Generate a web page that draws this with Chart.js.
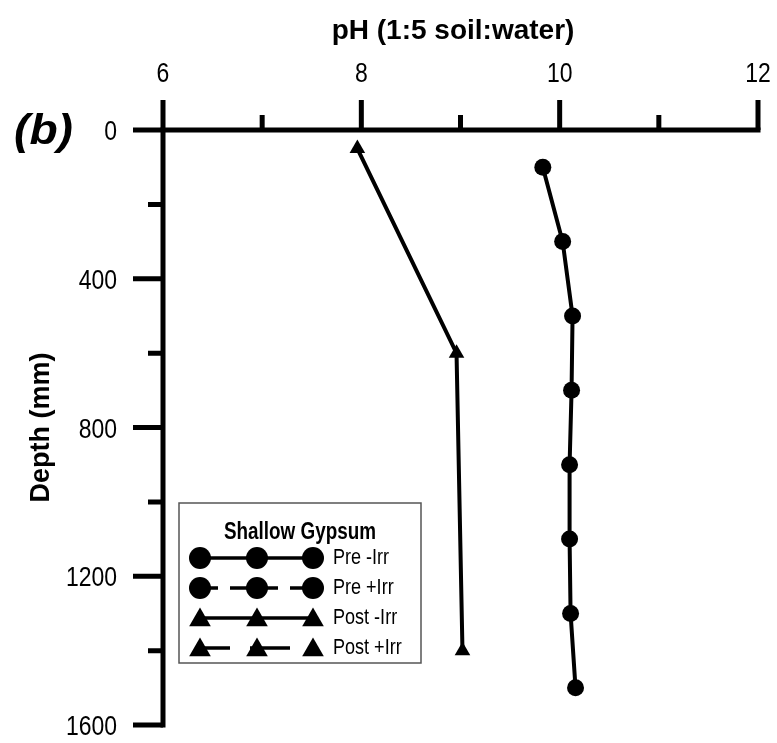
<!DOCTYPE html>
<html>
<head>
<meta charset="utf-8">
<script src="https://cdn.jsdelivr.net/npm/chart.js@4.4.1/dist/chart.umd.min.js"></script>
<style>
  html, body { margin: 0; padding: 0; background: #fff; }
  #wrap { width: 777px; height: 743px; position: relative; }
</style>
</head>
<body>
<div id="wrap"><canvas id="c" width="777" height="743"></canvas></div>
<script>
// ---- data ----
const seriesNames = ['Pre -Irr', 'Pre +Irr', 'Post -Irr', 'Post +Irr'];
const legendTitle = 'Shallow Gypsum';
const panelLabel = '(b)';
const xTitle = 'pH (1:5 soil:water)';
const yTitle = 'Depth (mm)';

const preIrrDepth = [100, 300, 500, 700, 900, 1100, 1300, 1500];
const preIrrPH    = [9.83, 10.03, 10.13, 10.12, 10.10, 10.10, 10.11, 10.16];

const postIrrDepth = [50, 600, 1400];
const postIrrPH    = [7.96, 8.96, 9.02];

const xTickValues = [6, 7, 8, 9, 10, 11, 12];
const xTickLabels = [6, 8, 10, 12];
const yTickValues = [0, 200, 400, 600, 800, 1000, 1200, 1400, 1600];
const yTickLabels = [0, 400, 800, 1200, 1600];

const toXY = (xs, ys) => xs.map((v, i) => ({ x: v, y: ys[i] }));

const SANS = "'Liberation Sans', Arial, sans-serif";
const NARROW_SCALE = 0.82;   // condensed look of the original lettering

function narrowText(ctx, text, x, y, align, font) {
  ctx.save();
  ctx.font = font;
  ctx.textAlign = align;
  ctx.translate(x, y);
  ctx.scale(NARROW_SCALE, 1);
  ctx.fillText(text, 0, 0);
  ctx.restore();
}

// ---- axes: thick lines, long major / short minor ticks, labels, titles ----
const axisPlugin = {
  id: 'axisPlugin',
  afterDatasetsDraw(chart) {
    const { ctx } = chart;
    const xs = chart.scales.x, ys = chart.scales.y;
    const xL = xs.getPixelForValue(xTickValues[0]);
    const xR = xs.getPixelForValue(xTickValues[xTickValues.length - 1]);
    const yT = ys.getPixelForValue(yTickValues[0]);
    const yB = ys.getPixelForValue(yTickValues[yTickValues.length - 1]);
    ctx.save();
    ctx.strokeStyle = '#000';
    ctx.fillStyle = '#000';
    ctx.lineWidth = 5;
    ctx.lineCap = 'butt';
    ctx.beginPath();
    ctx.moveTo(xL - 2.5, yT); ctx.lineTo(xR + 2.5, yT);
    ctx.moveTo(xL, yT - 2.5); ctx.lineTo(xL, yB + 2.5);
    ctx.stroke();
    ctx.beginPath();
    xTickValues.forEach(v => {
      const p = xs.getPixelForValue(v);
      const len = xTickLabels.includes(v) ? 30 : 15;
      ctx.moveTo(p, yT); ctx.lineTo(p, yT - len);
    });
    yTickValues.forEach(v => {
      const p = ys.getPixelForValue(v);
      const len = yTickLabels.includes(v) ? 30 : 15;
      ctx.moveTo(xL, p); ctx.lineTo(xL - len, p);
    });
    ctx.stroke();

    // tick labels
    ctx.textBaseline = 'alphabetic';
    const tickFont = "28px " + SANS;
    xTickLabels.forEach(v => {
      narrowText(ctx, String(v), xs.getPixelForValue(v), yT - 48, 'center', tickFont);
    });
    yTickLabels.forEach(v => {
      narrowText(ctx, String(v), xL - 46, ys.getPixelForValue(v) + 10, 'right', tickFont);
    });

    // axis titles
    ctx.font = "bold 28px " + SANS;
    ctx.textAlign = 'center';
    ctx.fillText(xTitle, 453, 39);
    ctx.save();
    ctx.translate(42, (yT + yB) / 2);
    ctx.rotate(-Math.PI / 2);
    ctx.font = "bold 27px " + SANS;
    ctx.textBaseline = 'middle';
    ctx.fillText(yTitle, 0, 0);
    ctx.restore();
    ctx.restore();
  }
};

// ---- legend box + panel label ----
function drawMarker(ctx, shape, x, y, r) {
  ctx.beginPath();
  if (shape === 'circle') {
    ctx.arc(x, y, r, 0, Math.PI * 2);
  } else {
    const hw = r * Math.sin(Math.PI / 3);
    ctx.moveTo(x, y - r);
    ctx.lineTo(x + hw, y + r / 2);
    ctx.lineTo(x - hw, y + r / 2);
    ctx.closePath();
  }
  ctx.fill();
}

const legendPlugin = {
  id: 'legendPlugin',
  afterDraw(chart) {
    const { ctx } = chart;
    ctx.save();
    // panel label
    ctx.fillStyle = '#000';
    ctx.textBaseline = 'alphabetic';
    ctx.save();
    ctx.font = "italic bold 42px " + SANS;
    ctx.translate(14, 144);
    ctx.scale(1.1, 1);
    ctx.fillText(panelLabel, 0, 0);
    ctx.restore();

    // legend box
    const bx = 179, by = 503, bw = 242, bh = 160;
    ctx.fillStyle = '#fff';
    ctx.fillRect(bx, by, bw, bh);
    ctx.strokeStyle = '#555';
    ctx.lineWidth = 1.5;
    ctx.strokeRect(bx, by, bw, bh);

    ctx.fillStyle = '#000';
    ctx.textBaseline = 'middle';
    narrowText(ctx, legendTitle, bx + 121, by + 30, 'center', "bold 23px " + SANS);

    const rows = [by + 55, by + 85, by + 115, by + 145];
    const mx = [200, 257, 313];
    const styles = [
      { shape: 'circle', segs: [[200, 313]], r: 11 },
      { shape: 'circle', segs: [[200, 218], [230, 248], [260, 278], [290, 308]], r: 11 },
      { shape: 'triangle', segs: [[200, 313]], r: 12.5 },
      { shape: 'triangle', segs: [[200, 230], [250, 290]], r: 12.5 }
    ];
    ctx.lineWidth = 3.5;
    ctx.strokeStyle = '#000';
    seriesNames.forEach((name, i) => {
      const y = rows[i];
      const st = styles[i];
      ctx.beginPath();
      st.segs.forEach(s => { ctx.moveTo(s[0], y); ctx.lineTo(s[1], y); });
      ctx.stroke();
      mx.forEach(x => drawMarker(ctx, st.shape, x, y + (st.shape === 'triangle' ? 2 : 0), st.r));
      narrowText(ctx, name, 333, y, 'left', "22px " + SANS);
    });
    ctx.restore();
  }
};

new Chart(document.getElementById('c'), {
  type: 'scatter',
  data: {
    datasets: [
      {
        label: seriesNames[0],
        data: toXY(preIrrPH, preIrrDepth),
        showLine: true,
        borderColor: '#000',
        backgroundColor: '#000',
        borderWidth: 4,
        pointStyle: 'circle',
        pointRadius: 8.5,
        pointBorderWidth: 0,
        clip: false
      },
      {
        label: seriesNames[2],
        data: toXY(postIrrPH, postIrrDepth),
        showLine: true,
        borderColor: '#000',
        backgroundColor: '#000',
        borderWidth: 4,
        pointStyle: 'triangle',
        pointRadius: 9,
        pointBorderWidth: 0,
        clip: false
      }
    ]
  },
  options: {
    responsive: false,
    animation: false,
    devicePixelRatio: 1,
    layout: { padding: { left: 0, top: 0, right: 19, bottom: 18 } },
    plugins: { legend: { display: false }, tooltip: { enabled: false } },
    scales: {
      x: {
        type: 'linear',
        position: 'top',
        min: 6, max: 12,
        grid: { display: false },
        border: { display: false },
        ticks: { display: false },
        afterBuildTicks(s) { s.ticks = xTickValues.map(v => ({ value: v })); },
        afterFit(s) { s.height = 130; s.paddingLeft = 0; s.paddingRight = 0; }
      },
      y: {
        type: 'linear',
        reverse: true,
        min: 0, max: 1600,
        grid: { display: false },
        border: { display: false },
        ticks: { display: false },
        afterBuildTicks(s) { s.ticks = yTickValues.map(v => ({ value: v })); },
        afterFit(s) { s.width = 163; s.paddingTop = 0; s.paddingBottom = 0; }
      }
    }
  },
  plugins: [axisPlugin, legendPlugin]
});
</script>
</body>
</html>
